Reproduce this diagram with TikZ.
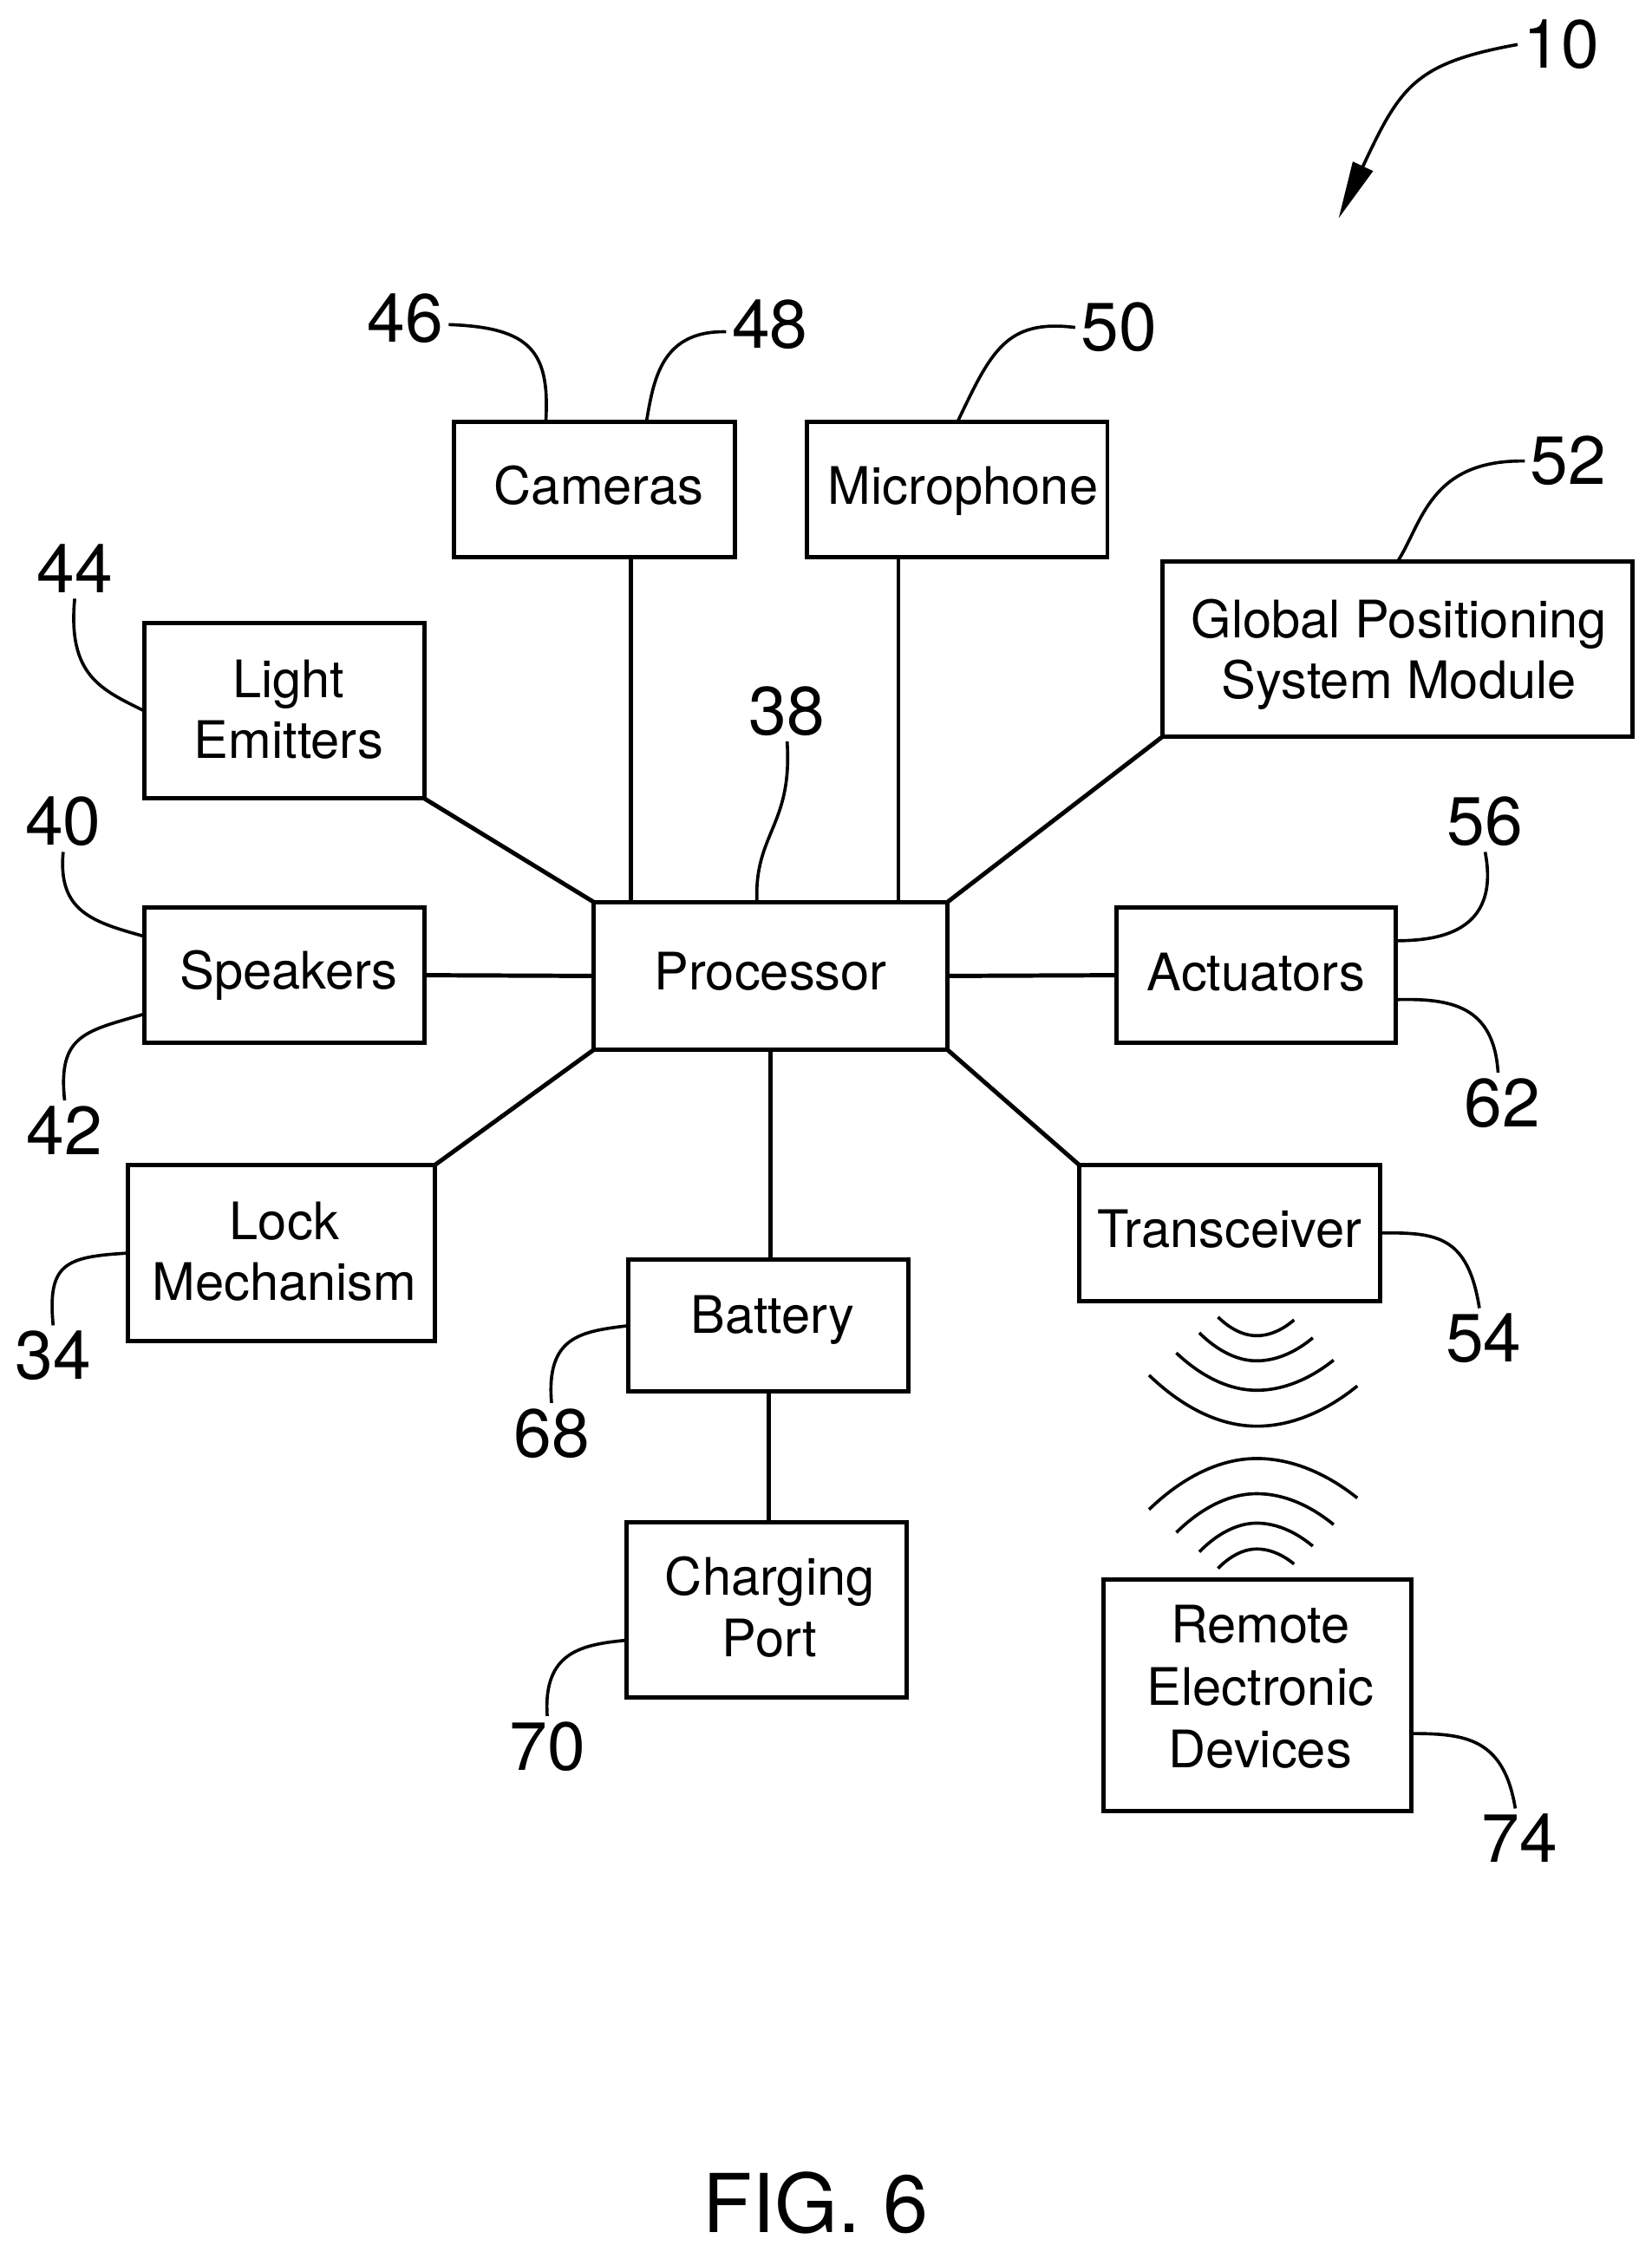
\documentclass[tikz,border=0pt]{standalone}
\usepackage{fontspec}
\setmainfont{TeX Gyre Heros}
\usetikzlibrary{arrows.meta}
\newcommand{\nudge}[3]{\kern#1\raisebox{#2}[\height][\depth]{#3}\kern-#1}

\begin{document}
\begin{tikzpicture}[x=1pt, y=-1pt,
    box/.style={rectangle, draw, line width=3pt, inner sep=0pt, outer sep=0pt, align=center, font=\fontsize{36}{42.5}\selectfont},
    refnum/.style={inner sep=4pt, outer sep=0pt, font=\fontsize{47.5}{47.5}\selectfont},
    wire/.style={line width=3pt},
    leader/.style={line width=2.2pt},
    wave/.style={line width=2.2pt}
]
\useasboundingbox (0,0) rectangle (1149.6,1568);

\node[box, minimum width=195.5pt, minimum height=94pt] (cameras) at (414,341) {\nudge{3pt}{3pt}{Cameras}};
\node[box, minimum width=209pt, minimum height=94pt] (mic) at (666.5,341) {\nudge{4pt}{-1pt}{Microphone}};
\node[box, minimum width=327.5pt, minimum height=122pt] (gps) at (973,452) {\nudge{1pt}{-3.5pt}{Global Positioning}\\\nudge{1pt}{-3.5pt}{System Module}};
\node[box, minimum width=195pt, minimum height=122pt] (light) at (198,495) {\nudge{3pt}{1pt}{Light}\\\nudge{3pt}{1pt}{Emitters}};
\node[box, minimum width=195pt, minimum height=94pt] (speakers) at (198,679) {\nudge{3pt}{0pt}{Speakers}};
\node[box, minimum width=246.5pt, minimum height=103pt] (proc) at (536.5,679.5) {\nudge{0pt}{3pt}{Processor}};
\node[box, minimum width=194.5pt, minimum height=94pt] (actuators) at (874.5,679) {\nudge{0pt}{2pt}{Actuators}};
\node[box, minimum width=214pt, minimum height=123pt] (lock) at (196,872.5) {\nudge{2pt}{1pt}{Lock}\\\nudge{2pt}{1pt}{Mechanism}};
\node[box, minimum width=195pt, minimum height=92pt] (battery) at (535,923) {\nudge{3pt}{4pt}{Battery}};
\node[box, minimum width=209.5pt, minimum height=95pt] (transceiver) at (856,858.5) {\nudge{0pt}{3pt}{Transceiver}};
\node[box, minimum width=195pt, minimum height=122pt] (charging) at (534,1121) {\nudge{2pt}{2pt}{Charging}\\\nudge{2pt}{2pt}{Port}};
\node[box, minimum width=214.5pt, minimum height=161pt, font=\fontsize{36}{43.5}\selectfont] (remote) at (875.5,1180.5) {\nudge{2pt}{6pt}{Remote}\\\nudge{2pt}{6pt}{Electronic}\\\nudge{2pt}{6pt}{Devices}};

\draw[wire] ([xshift=25pt]cameras.south) -- ([xshift=25pt]cameras.south |- proc.north);
\draw[wire] ([xshift=-41pt]mic.south) -- ([xshift=-41pt]mic.south |- proc.north);
\draw[wire] (light.south east) -- (proc.north west);
\draw[wire] (gps.south west) -- (proc.north east);
\draw[wire] (speakers.east) -- (proc.west);
\draw[wire] (actuators.west) -- (proc.east);
\draw[wire] (lock.north east) -- (proc.south west);
\draw[wire] (transceiver.north west) -- (proc.south east);
\draw[wire] (proc.south) -- (proc.south |- battery.north);
\draw[wire] (battery.south) -- (battery.south |- charging.north);

\node[refnum] (n10) at (1087,31) {10};
\node[refnum] (n46) at (282,222) {46};
\node[refnum] (n48) at (536,226) {48};
\node[refnum] (n50) at (779,228) {50};
\node[refnum] (n52) at (1092,321) {52};
\node[refnum] (n44) at (52,396) {44};
\node[refnum] (n38) at (548,495) {38};
\node[refnum] (n40) at (44,572) {40};
\node[refnum] (n56) at (1034,572) {56};
\node[refnum] (n62) at (1046,768) {62};
\node[refnum] (n42) at (45,787) {42};
\node[refnum] (n54) at (1033,932) {54};
\node[refnum] (n34) at (37,944) {34};
\node[refnum] (n68) at (384,998) {68};
\node[refnum] (n70) at (381,1216) {70};
\node[refnum] (n74) at (1058,1280) {74};
\node[font=\fontsize{56.5}{56.5}\selectfont] (figlabel) at (568,1534) {FIG. 6};

\coordinate (tip10) at (932,152);
\draw[leader, -{Triangle[length=40pt, width=15pt]}] (n10.west) .. controls (985,44) and (975,60) .. (tip10);

\draw[leader] ([yshift=-4pt]n46.east) .. controls (370,228) and (383,245) .. ([xshift=-34pt]cameras.north);
\draw[leader] ([yshift=-5pt]n48.west) .. controls (460,230) and (455,265) .. ([xshift=36pt]cameras.north);
\draw[leader] (n50.west) .. controls (700,222) and (690,245) .. (mic.north);
\draw[leader] (n52.west) .. controls (995,320) and (990,365) .. (gps.north);
\draw[leader] (n44.south) .. controls (47,470) and (70,480) .. (light.west);
\draw[leader] (n40.south) .. controls (40,635) and (65,642) .. ([yshift=27pt]speakers.west);
\draw[leader] (n42.north) .. controls (40,720) and (60,718) .. ([yshift=-27pt]speakers.west);
\draw[leader] (n34.north) .. controls (33,880) and (45,875) .. (lock.west);
\draw[leader] (n38.south) .. controls (552,575) and (525,580) .. ([xshift=-9.5pt]proc.north);
\draw[leader] (n56.south) .. controls (1045,650) and (1000,655) .. ([yshift=24pt]actuators.east);
\draw[leader] ([xshift=-3pt]n62.north) .. controls (1040,700) and (1010,695) .. ([yshift=-17pt]actuators.east);
\draw[leader] ([xshift=-3pt]n54.north) .. controls (1022,860) and (1000,858) .. (transceiver.east);
\draw[leader] (n68.north) .. controls (380,930) and (405,927) .. (battery.west);
\draw[leader] (n70.north) .. controls (378,1150) and (405,1145) .. ([yshift=-21pt]charging.west);
\draw[leader] ([xshift=-3pt]n74.north) .. controls (1047,1210) and (1020,1207) .. ([yshift=-26.5pt]remote.east);

\foreach \xa/\ya/\ym/\xb/\yb in {848/917/930/901/919, 835/928/947.5/914/931.5, 819/942/968/928.5/947, 800/957.5/993/945/965,
    800/1051/1015.5/945/1043, 819/1067/1040/928.5/1061.5, 835/1080.5/1060.5/914/1076.5, 848/1092/1078.5/901/1089}
    \draw[wave] (\xa,\ya) parabola bend (875,\ym) (\xb,\yb);

\end{tikzpicture}
\end{document}
